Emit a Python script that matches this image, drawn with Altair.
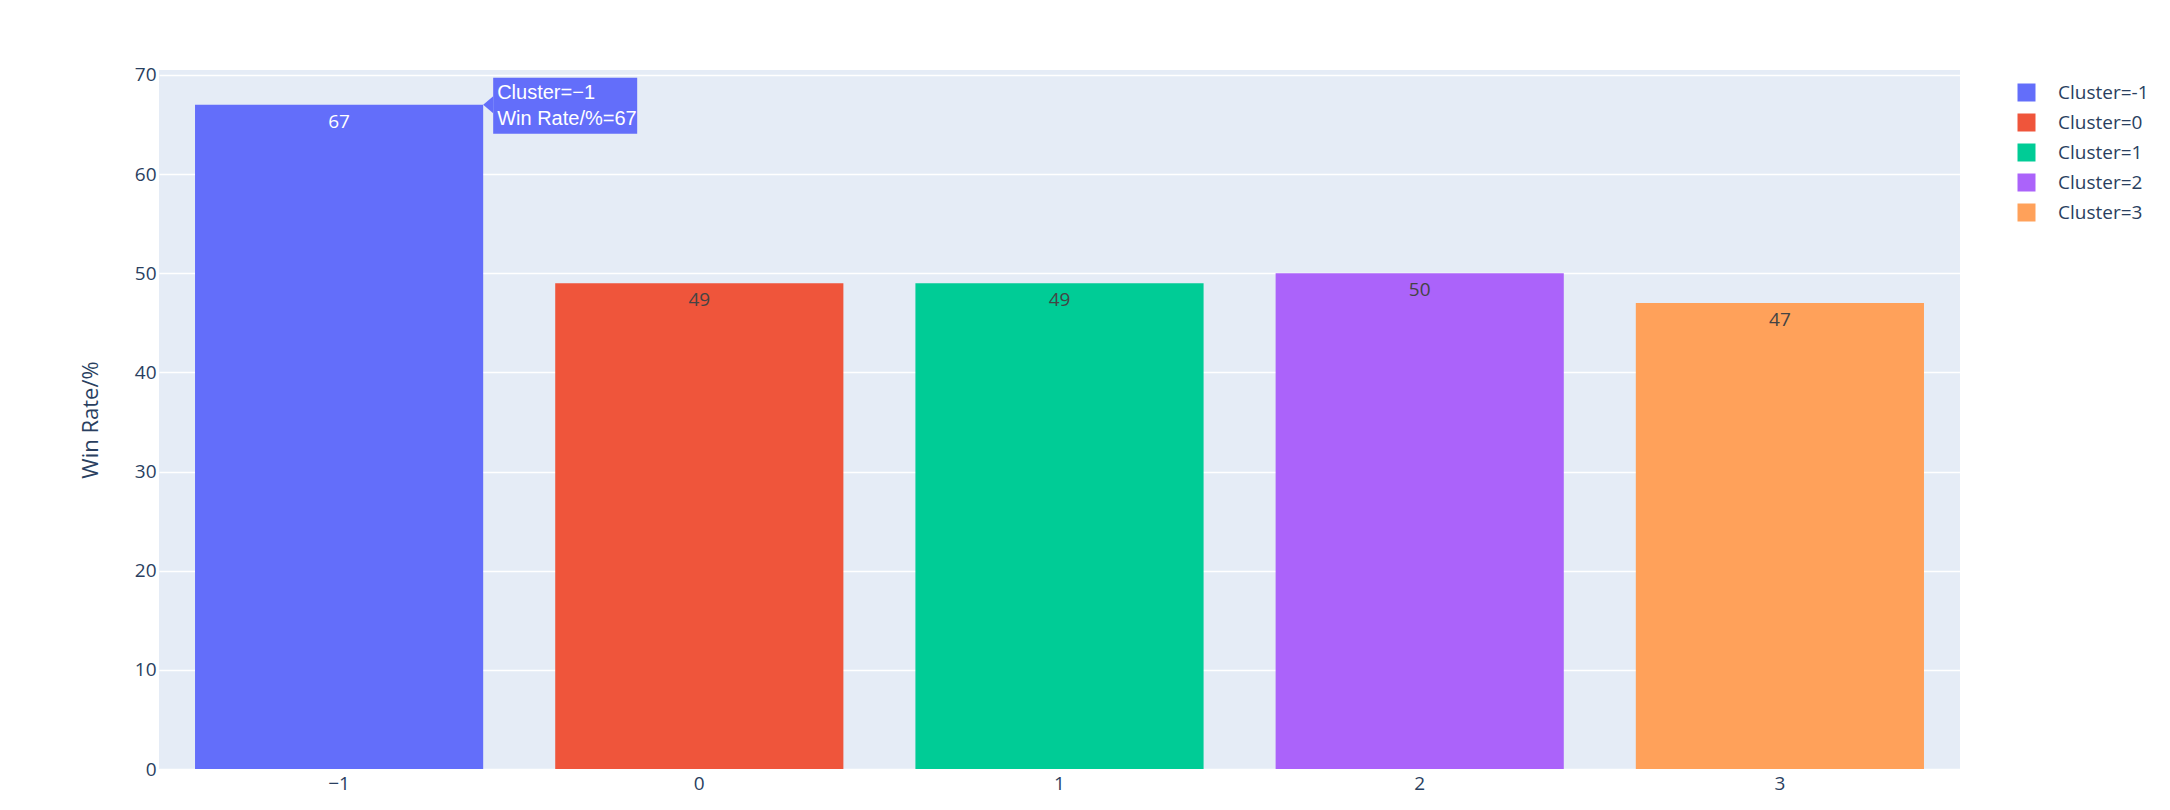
import altair as alt
import pandas as pd

# ---- data ----
clusters = ["-1", "0", "1", "2", "3"]
win_rates = [67, 49, 49, 50, 47]
palette = ["#636EFA", "#EF553B", "#00CC96", "#AB63FA", "#FFA15A"]
y_ticks = [0, 10, 20, 30, 40, 50, 60, 70]
y_max = 70.5
hover_cluster = "-1"

df = pd.DataFrame({"Cluster": clusters, "WinRate": win_rates})

FONT = "Open Sans"
TXT = "#2a3f5f"

x_scale = alt.Scale(paddingInner=0.2, paddingOuter=0.1)
y_scale = alt.Scale(domain=[0, y_max], nice=False, zero=True)

x_enc = alt.X(
    "Cluster:N", sort=clusters, scale=x_scale,
    axis=alt.Axis(title=None, labelExpr="replace(datum.label, '-', '\u2212')",
                  labelAngle=0, ticks=False, domain=False, grid=False,
                  labelFontSize=19, labelColor=TXT, labelFont=FONT, labelPadding=5),
)
y_enc = alt.Y(
    "WinRate:Q", scale=y_scale,
    axis=alt.Axis(values=y_ticks, title="Win Rate/%", ticks=False, domain=False,
                  grid=True, gridColor="white", gridWidth=1.6,
                  labelFontSize=19, labelColor=TXT, labelFont=FONT, labelPadding=3,
                  titleFontSize=22, titleColor=TXT, titleFont=FONT,
                  titleFontWeight="normal", titlePadding=32),
)

base = alt.Chart(df)

bars = base.mark_bar().encode(
    x=x_enc,
    y=y_enc,
    color=alt.Color(
        "Cluster:N", sort=clusters,
        scale=alt.Scale(domain=clusters, range=palette),
        legend=alt.Legend(
            title=None, orient="none", legendX=1858, legendY=13,
            symbolType="square", symbolSize=324, symbolStrokeWidth=0,
            symbolOpacity=1, labelFontSize=19, labelFont=FONT, labelColor=TXT,
            labelOffset=22, rowPadding=10, padding=0,
            labelExpr="'Cluster=' + datum.label",
        ),
    ),
)

labels = base.mark_text(dy=17, baseline="middle", fontSize=19, font=FONT).encode(
    x=alt.X("Cluster:N", sort=clusters),
    y=alt.Y("WinRate:Q"),
    text=alt.Text("WinRate:Q"),
    color=alt.condition(alt.datum.Cluster == hover_cluster,
                        alt.value("white"), alt.value("#444444")),
)

hover = base.transform_filter(alt.datum.Cluster == hover_cluster)

hover_box = hover.mark_rect(
    color=palette[0], opacity=1, xOffset=10, x2Offset=154, yOffset=-27, y2Offset=29
).encode(
    x=alt.X("Cluster:N", sort=clusters, bandPosition=1),
    x2=alt.X2("Cluster", bandPosition=1),
    y=alt.Y("WinRate:Q"),
    y2=alt.Y2("WinRate"),
)

hover_arrow = hover.mark_point(
    shape="M -1 0 L 1 -1.7 L 1 1.7 Z", size=100, filled=True, opacity=1,
    color=palette[0], xOffset=5,
).encode(
    x=alt.X("Cluster:N", sort=clusters, bandPosition=1),
    y=alt.Y("WinRate:Q"),
)

hover_text = hover.transform_calculate(
    tip="['Cluster=' + replace(datum.Cluster, '-', '\u2212'), 'Win Rate/%=' + datum.WinRate]"
).mark_text(
    align="left", baseline="alphabetic", font="Liberation Sans", fontSize=20,
    color="white", xOffset=14, dy=-6, lineHeight=26,
).encode(
    x=alt.X("Cluster:N", sort=clusters, bandPosition=1),
    y=alt.Y("WinRate:Q"),
    text=alt.Text("tip:N"),
)

chart = alt.layer(bars, labels, hover_box, hover_arrow, hover_text).properties(
    width=1801,
    height=699,
    autosize=alt.AutoSizeParams(type="none"),
    padding={"left": 151, "top": 62, "right": 200, "bottom": 30},
    background="white",
).configure_view(
    fill="#E5ECF6", strokeWidth=0
)

chart.save("out.html", embed_options={"renderer": "svg", "actions": False})
